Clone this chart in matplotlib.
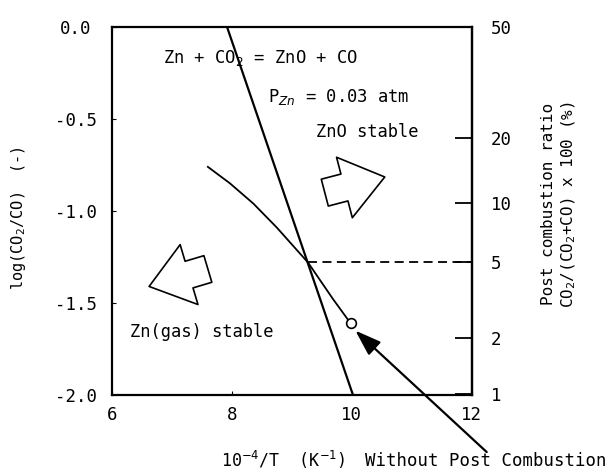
import numpy as np
import matplotlib
matplotlib.use("Agg")
import matplotlib.pyplot as plt

plt.rcParams['font.family'] = ['DejaVu Sans Mono', 'DejaVu Sans']
plt.rcParams['mathtext.fontset'] = 'dejavusans'

# equilibrium line Zn + CO2 = ZnO + CO
eq_x = [7.92, 10.02]
eq_y = [0.0, -2.0]

# measured curve
curve_x = [7.60, 7.97, 8.36, 8.75, 9.27, 9.69, 9.98]
curve_y = [-0.76, -0.85, -0.96, -1.09, -1.28, -1.48, -1.61]

# point without post combustion
pt_x = 9.98
pt_y = -1.61

# intersection / 5 % level
cross_x = 9.27
cross_pct = 5.0

left_ticks = [0.0, -0.5, -1.0, -1.5, -2.0]
right_ticks = [1, 2, 5, 10, 20, 50]
x_ticks = [6, 8, 10, 12]


def to_pct(y):
    r = 10.0 ** np.asarray(y, dtype=float)
    return 100.0 * r / (1.0 + r)


def to_log(p):
    p = np.clip(np.asarray(p, dtype=float), 1e-6, 100 - 1e-6)
    return np.log10(p / (100.0 - p))


fig = plt.figure(figsize=(6.15, 4.75), dpi=100)
ax = fig.add_axes([0.182, 0.1684, 0.585, 0.7747])

ax.plot(eq_x, eq_y, color='black', lw=1.6)
ax.plot(curve_x, curve_y, color='black', lw=1.3)
ax.plot(pt_x, pt_y, 'o', mfc='white', mec='black', ms=7, mew=1.2, zorder=5)

cross_y = float(to_log(cross_pct))
ax.plot([cross_x, 12], [cross_y, cross_y], color='black', lw=1.3, ls=(0, (5, 3)))

ax.set_xlim(6, 12)
ax.set_ylim(-2.0, 0.0)
ax.set_xticks(x_ticks)
ax.set_yticks(left_ticks)
ax.set_yticklabels(['%.1f' % v for v in left_ticks])
ax.tick_params(axis='both', direction='in', length=3, labelsize=12.5)
ax.tick_params(axis='y', pad=26)
ax.tick_params(axis='x', pad=8)
for lbl in ax.get_yticklabels():
    lbl.set_ha('center')
for s in ax.spines.values():
    s.set_linewidth(1.6)

sec = ax.secondary_yaxis('right', functions=(to_pct, to_log))
sec.set_yticks(right_ticks)
sec.set_yticklabels([str(v) for v in right_ticks])
sec.tick_params(direction='in', length=12, width=1.3, labelsize=12.5, pad=14)
sec.spines['right'].set_linewidth(1.6)

# texts inside the plot
ax.text(6.85, -0.17, 'Zn + CO$_2$ = ZnO + CO', fontsize=12.3, va='center')
ax.text(8.60, -0.38, 'P$_{Zn}$ = 0.03 atm', fontsize=12.3, va='center')
ax.text(9.40, -0.57, 'ZnO stable', fontsize=12.3, va='center')
ax.text(6.30, -1.66, 'Zn(gas) stable', fontsize=12.3, va='center')

# hollow block arrows
block = dict(arrowstyle='simple,head_length=0.6,head_width=0.9,tail_width=0.4',
             fc='white', ec='black', lw=1.2, mutation_scale=50,
             shrinkA=0, shrinkB=0)
ax.annotate('', xy=(10.55, -0.815), xytext=(9.55, -0.90), arrowprops=block)
ax.annotate('', xy=(6.62, -1.41), xytext=(7.60, -1.315), arrowprops=block)

# pointer arrow to the circle
ax.annotate('', xy=(pt_x + 0.08, pt_y - 0.04), xytext=(12.25, -2.31),
            arrowprops=dict(arrowstyle='-|>,head_length=1.6,head_width=0.55',
                            fc='black', ec='black', lw=1.6, shrinkA=0, shrinkB=0),
            annotation_clip=False)
fig.text(0.594, 0.03, 'Without Post Combustion', fontsize=12.5, ha='left', va='center')

# axis labels
fig.text(0.46, 0.032, '10$^{-4}$/T  (K$^{-1}$)', fontsize=12, ha='center', va='center')
fig.text(0.03, 0.54, 'log(CO$_2$/CO)  (-)', fontsize=11, rotation=90, ha='center', va='center')
fig.text(0.892, 0.57, 'Post combustion ratio', fontsize=11.5, rotation=90, ha='center', va='center')
fig.text(0.925, 0.57, 'CO$_2$/(CO$_2$+CO) x 100 (%)', fontsize=11.5, rotation=90, ha='center', va='center')

fig.savefig('out.png', dpi=100)
